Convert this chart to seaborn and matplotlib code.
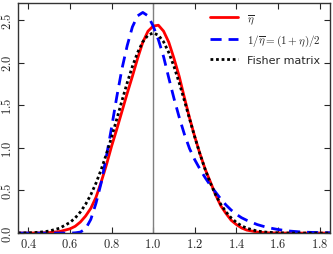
import pandas as pd
import seaborn as sns
import matplotlib.pyplot as plt

# x grid
x_vals = [0.35, 0.40, 0.45, 0.50, 0.55, 0.60, 0.625, 0.65, 0.675, 0.70, 0.725, 0.75,
          0.775, 0.80, 0.825, 0.85, 0.875, 0.90, 0.925, 0.95, 0.975, 1.00, 1.025, 1.05,
          1.075, 1.10, 1.125, 1.15, 1.175, 1.20, 1.225, 1.25, 1.275, 1.30, 1.325, 1.35,
          1.375, 1.40, 1.425, 1.45, 1.50, 1.55, 1.60, 1.65, 1.70, 1.75, 1.80, 1.85]

eta_bar = [0.0, 0.0, 0.002, 0.006, 0.018, 0.05, 0.08, 0.13, 0.20, 0.29, 0.42, 0.60,
           0.80, 1.02, 1.22, 1.43, 1.64, 1.84, 2.05, 2.24, 2.37, 2.43, 2.44, 2.37,
           2.24, 2.05, 1.84, 1.59, 1.35, 1.13, 0.93, 0.75, 0.60, 0.45, 0.32, 0.23,
           0.15, 0.10, 0.06, 0.035, 0.012, 0.003, 0.001, 0.0, 0.0, 0.0, 0.0, 0.0]

inv_eta = [0.0, 0.0, 0.0, 0.0, 0.0, 0.0, 0.003, 0.012, 0.05, 0.16, 0.35, 0.59,
           0.90, 1.24, 1.60, 1.93, 2.20, 2.42, 2.55, 2.59, 2.55, 2.43, 2.27, 2.07,
           1.82, 1.58, 1.36, 1.16, 0.99, 0.86, 0.75, 0.65, 0.56, 0.48, 0.40, 0.33,
           0.27, 0.22, 0.18, 0.15, 0.10, 0.065, 0.042, 0.025, 0.015, 0.009, 0.006, 0.004]

fisher = [0.001, 0.003, 0.009, 0.024, 0.057, 0.125, 0.178, 0.248, 0.338, 0.450, 0.586, 0.746,
          0.927, 1.127, 1.339, 1.555, 1.764, 1.956, 2.119, 2.245, 2.323, 2.35, 2.323, 2.245,
          2.119, 1.956, 1.764, 1.555, 1.339, 1.127, 0.927, 0.746, 0.586, 0.450, 0.338, 0.248,
          0.178, 0.125, 0.085, 0.057, 0.024, 0.009, 0.003, 0.001, 0.0, 0.0, 0.0, 0.0]

labels = [r'$\overline{\eta}$', r'$1/\overline{\eta} = (1+\eta)/2$', 'Fisher matrix']

sns.set_style('ticks')
plt.rcParams['mathtext.fontset'] = 'cm'
plt.rcParams['font.family'] = ['DejaVu Sans']

df = pd.DataFrame({'x': x_vals, 'eta': eta_bar, 'inv': inv_eta, 'fisher': fisher})

fig = plt.figure(figsize=(3.33, 2.55), dpi=100)
ax = fig.add_axes([0.054, 0.082, 0.937, 0.902])

ax.axvline(1.0, color='gray', lw=1, zorder=1)
sns.lineplot(data=df, x='x', y='eta', color='red', lw=2, label=labels[0], ax=ax)
sns.lineplot(data=df, x='x', y='inv', color='blue', lw=2, ls=(0, (4, 2.5)), label=labels[1], ax=ax)
sns.lineplot(data=df, x='x', y='fisher', color='black', lw=2, ls=(0, (1, 1)), label=labels[2], ax=ax)

ax.set_xlim(0.35, 1.85)
ax.set_ylim(0, 2.7)
ax.set_xticks([0.4, 0.6, 0.8, 1.0, 1.2, 1.4, 1.6, 1.8])
ax.set_yticks([0.0, 0.5, 1.0, 1.5, 2.0, 2.5])
ax.xaxis.set_major_formatter(plt.FuncFormatter(lambda v, _: f'${v:.1f}$'))
ax.yaxis.set_major_formatter(plt.FuncFormatter(lambda v, _: f'${v:.1f}$'))
ax.tick_params(direction='in', top=True, right=True, length=4, width=0.8,
               labelsize=9, pad=3)
plt.setp(ax.get_yticklabels(), rotation=90, va='center')
ax.set_xlabel('')
ax.set_ylabel('')
for s in ax.spines.values():
    s.set_linewidth(1)
    s.set_color('#333333')

ax.legend(loc='upper right', frameon=False, fontsize=8, handlelength=2.6,
          labelspacing=0.6, borderaxespad=0.4)

fig.savefig('out.png', dpi=100)
